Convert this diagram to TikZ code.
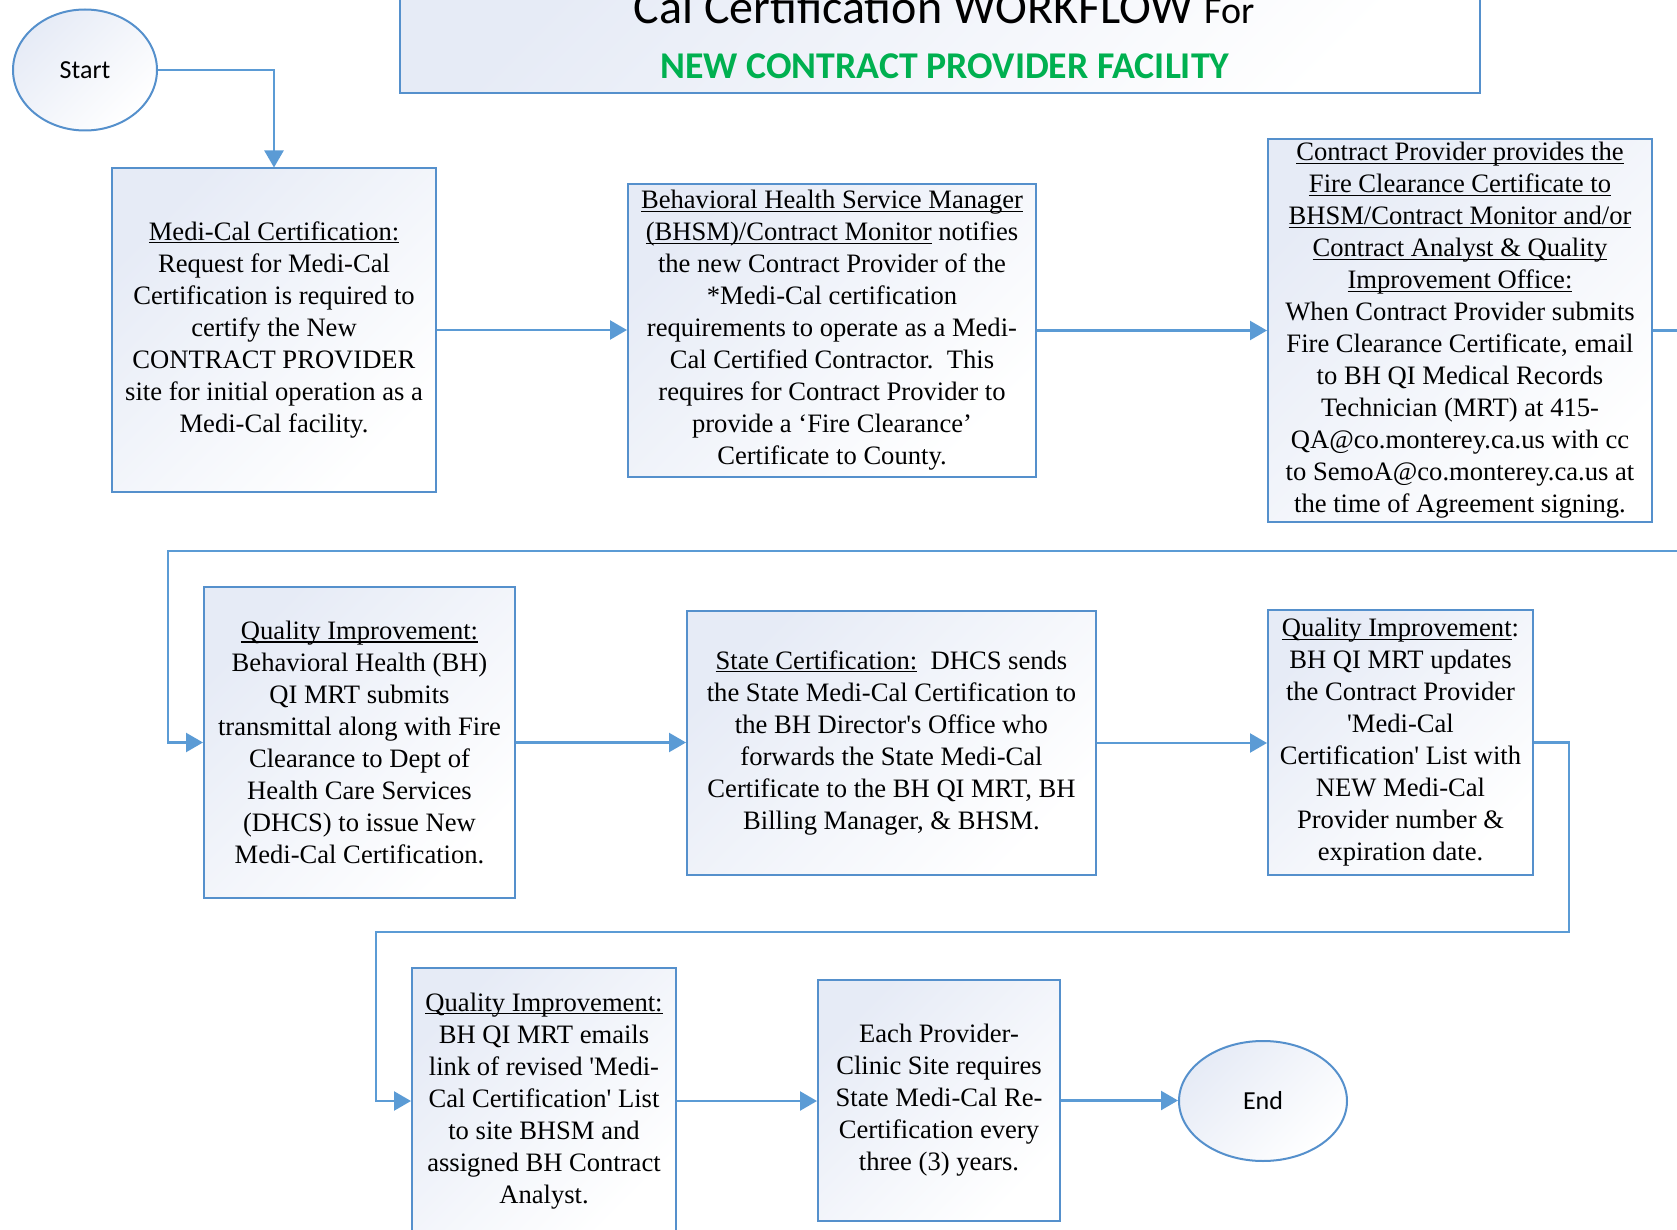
\documentclass[tikz,border=0pt]{standalone}
\usepackage{fontspec}
\setmainfont{Liberation Serif}
\newfontfamily\calibri{Carlito}
\usetikzlibrary{arrows.meta,shapes.geometric}
\definecolor{panelline}{HTML}{5590CC}
\definecolor{panelfill}{HTML}{E6EBF6}
\definecolor{linkblue}{HTML}{5B9BD5}
\definecolor{titlegreen}{HTML}{00B050}
\newcommand\ulbar[1]{\sbox0{#1}\rlap{\rule[-1.5pt]{\wd0}{0.55pt}}\usebox0}
\begin{document}
\begin{tikzpicture}[x=0.5pt, y=-0.5pt,
                    panel/.style={draw=panelline, line width=1pt, top color=panelfill, bottom color=white,
                                  shading angle=45, inner sep=0pt, align=center,
                                  font=\fontsize{13.3}{16}\selectfont,
                                  execute at begin node={\rule{0pt}{14pt}}},
                    terminal/.style={ellipse, draw=panelline, line width=1pt, top color=panelfill,
                                     bottom color=white, shading angle=45, inner sep=0pt,
                                     font=\calibri\fontsize{13}{15}\selectfont},
                    link/.style={draw=linkblue, line width=1.2pt, -{Triangle[length=8.5pt,width=9.5pt]}}
                ]
                \useasboundingbox (0,0) rectangle (1677,1230);
                \clip (0,0) rectangle (1677,1230);
                % title
                \node[draw=panelline, line width=1pt, top color=panelfill, bottom color=white, shading angle=45,
                      minimum width=540pt, minimum height=59pt] (titlebox) at (940,34) {};
                \node[anchor=base, font=\calibri] (titletop) at (944,24)
                    {\fontsize{24}{28}\selectfont Cal Certification WORKFLOW \fontsize{19}{22}\selectfont For};
                \node[anchor=base, font=\calibri\bfseries\fontsize{18.9}{22}\selectfont, text=titlegreen]
                    (titlesub) at (945,79) {NEW CONTRACT PROVIDER FACILITY};
                % first row
                \node[terminal, minimum width=72pt, minimum height=60.5pt] (start) at (85,70) {Start};
                \node[panel, minimum width=162pt, minimum height=161.5pt] (medi) at (274,330)
                    {\ulbar{Medi-Cal Certification:}\\
                     Request for Medi-Cal\\
                     Certification is required to\\
                     certify the New\\
                     CONTRACT PROVIDER\\
                     site for initial operation as a\\
                     Medi-Cal facility.};
                \node[panel, minimum width=204pt, minimum height=146.5pt] (bhsm) at (832,330.5)
                    {\ulbar{Behavioral Health Service Manager}\\
                     \ulbar{(BHSM)/Contract Monitor} notifies\\
                     the new Contract Provider of the\\
                     *Medi-Cal certification\\
                     requirements to operate as a Medi-\\
                     Cal Certified Contractor.\ \ This\\
                     requires for Contract Provider to\\
                     provide a ‘Fire Clearance’\\
                     Certificate to County.};
                \node[panel, minimum width=192pt, minimum height=191.5pt] (fire) at (1460,330.5)
                    {\ulbar{Contract Provider provides the}\\
                     \ulbar{Fire Clearance Certificate to}\\
                     \ulbar{BHSM/Contract Monitor and/or}\\
                     \ulbar{Contract Analyst \& Quality}\\
                     \ulbar{Improvement Office:}\\
                     When Contract Provider submits\\
                     Fire Clearance Certificate, email\\
                     to BH QI Medical Records\\
                     Technician (MRT) at 415-\\
                     QA@co.monterey.ca.us with cc\\
                     to SemoA@co.monterey.ca.us at\\
                     the time of Agreement signing.};
                % second row
                \node[panel, minimum width=155.5pt, minimum height=155.5pt] (qisubmit) at (359.5,742.5)
                    {\ulbar{Quality Improvement:}\\
                     Behavioral Health (BH)\\
                     QI MRT submits\\
                     transmittal along with Fire\\
                     Clearance to Dept of\\
                     Health Care Services\\
                     (DHCS) to issue New\\
                     Medi-Cal Certification.};
                \node[panel, minimum width=204.5pt, minimum height=132pt] (state) at (891.5,743)
                    {\ulbar{State Certification:}\ \ DHCS sends\\
                     the State Medi-Cal Certification to\\
                     the BH Director\textquotesingle s Office who\\
                     forwards the State Medi-Cal\\
                     Certificate to the BH QI MRT, BH\\
                     Billing Manager, \& BHSM.};
                \node[panel, minimum width=132.5pt, minimum height=132.5pt] (update) at (1400.5,742.5)
                    {\ulbar{Quality Improvement}:\\
                     BH QI MRT updates\\
                     the Contract Provider\\
                     \textquotesingle Medi-Cal\\
                     Certification\textquotesingle{} List with\\
                     NEW Medi-Cal\\
                     Provider number \&\\
                     expiration date.};
                % third row
                \node[panel, minimum width=132pt, minimum height=133pt] (emails) at (544,1101)
                    {\ulbar{Quality Improvement:}\\
                     BH QI MRT emails\\
                     link of revised \textquotesingle Medi-\\
                     Cal Certification\textquotesingle{} List\\
                     to site BHSM and\\
                     assigned BH Contract\\
                     Analyst.};
                \node[panel, minimum width=121pt, minimum height=120.5pt] (recert) at (939,1100.5)
                    {Each Provider-\\
                     Clinic Site requires\\
                     State Medi-Cal Re-\\
                     Certification every\\
                     three (3) years.};
                \node[terminal, minimum width=84pt, minimum height=60pt] (finish) at (1263,1101) {End};
                % connectors
                \coordinate (edgeA) at (1700,551);
                \coordinate (rowA) at (168,551);
                \coordinate (edgeB) at (1569,932);
                \coordinate (rowB) at (376,932);
                \draw[link] (start.east) -| (medi.north);
                \draw[link] (medi.east) -- (medi.east -| bhsm.west);
                \draw[link] (bhsm.east) -- (bhsm.east -| fire.west);
                \draw[link] (fire.east) -| (edgeA) -- (rowA) |- (qisubmit.west);
                \draw[link] (qisubmit.east) -- (qisubmit.east -| state.west);
                \draw[link] (state.east) -- (state.east -| update.west);
                \draw[link] (update.east) -| (edgeB) -- (rowB) |- (emails.west);
                \draw[link] (emails.east) -- (emails.east -| recert.west);
                \draw[link] (recert.east) -- (recert.east -| finish.west);
                \end{tikzpicture}
\end{document}
